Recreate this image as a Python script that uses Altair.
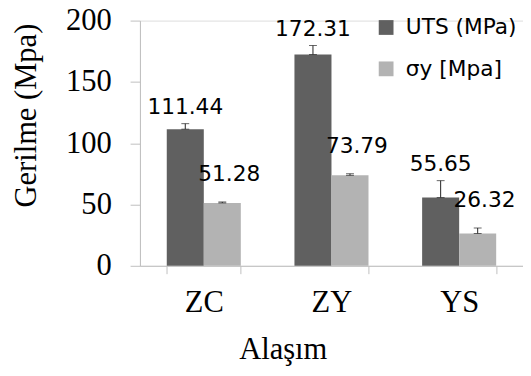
import altair as alt
import pandas as pd

categories = ["ZC", "ZY", "YS"]
series = ["UTS (MPa)", "σy [Mpa]"]
uts = [111.44, 172.31, 55.65]
sy = [51.28, 73.79, 26.32]
uts_err = [4.5, 7.4, 13.8]
sy_err = [0.8, 1.3, 4.5]
y_ticks = [0, 50, 100, 150, 200]
colors = ["#606060", "#b3b3b3"]

rows = []
for i, c in enumerate(categories):
    rows.append(dict(cat=c, series=series[0], value=uts[i], err=uts_err[i]))
    rows.append(dict(cat=c, series=series[1], value=sy[i], err=sy_err[i]))
df = pd.DataFrame(rows)
df["top"] = df["value"] + df["err"]
df["label"] = df["value"].map(lambda v: f"{v:.2f}")

W, H = 389, 249
SERIF = "Liberation Serif"
SANS = "DejaVu Sans"
AX = "#bfbfbf"

x_axis = alt.Axis(
    title="Alaşım", titleFont=SERIF, titleFontSize=31, titleFontWeight="normal",
    titleColor="black", titleX=145, titleY=94, titleAlign="center",
    titleBaseline="alphabetic", titleAnchor="start",
    labelFont=SERIF, labelFontSize=31, labelColor="black", labelAngle=0,
    labelPadding=14, tickBand="extent", tickSize=8, tickColor=AX,
    domainColor=AX, labelBaseline="top",
)
y_axis = alt.Axis(
    title="Gerilme (Mpa)", values=y_ticks, grid=False, tickSize=10,
    tickColor=AX, domainColor=AX, labelPadding=19,
    labelFont=SERIF, labelFontSize=31, labelColor="black",
    titleFont=SERIF, titleFontSize=31, titleFontWeight="normal",
    titleColor="black", titleAngle=270, titleX=-106, titleY=96,
    titleAlign="center", titleBaseline="alphabetic",
)

x = alt.X("cat:N", sort=categories,
          scale=alt.Scale(paddingInner=0.42, paddingOuter=0.21), axis=x_axis)
xo = alt.XOffset("series:N", sort=series,
                 scale=alt.Scale(paddingInner=0, paddingOuter=0))
yscale = alt.Scale(domain=[0, 200], nice=False, zero=True)

base = alt.Chart(df)

bars = base.mark_bar().encode(
    x=x, xOffset=xo,
    y=alt.Y("value:Q", scale=yscale, axis=y_axis),
    color=alt.Color(
        "series:N", sort=series,
        scale=alt.Scale(domain=series, range=colors),
        legend=alt.Legend(
            orient="none", legendX=239, legendY=-4, title=None,
            symbolType="square", symbolSize=225, symbolStrokeWidth=0,
            labelFont=SANS, labelFontSize=22, labelColor="black",
            rowPadding=20, labelOffset=9, padding=0, labelLimit=300,
        ),
    ),
)

err_rule = base.mark_rule(color="#222222", strokeWidth=1).encode(
    x=x, xOffset=xo,
    y=alt.Y("value:Q", scale=yscale, axis=y_axis), y2="top:Q",
)
cap_top = base.mark_tick(color="#222222", size=8, thickness=1).encode(
    x=x, xOffset=xo, y=alt.Y("top:Q", scale=yscale, axis=y_axis),
)
cap_bot = base.mark_tick(color="#222222", size=8, thickness=1).encode(
    x=x, xOffset=xo, y=alt.Y("value:Q", scale=yscale, axis=y_axis),
)

text_uts = base.transform_filter(alt.datum.series == series[0]).mark_text(
    font=SANS, fontSize=22, dy=-10, baseline="alphabetic", color="black"
).encode(x=x, xOffset=xo, y=alt.Y("top:Q", scale=yscale, axis=y_axis), text="label:N")

text_sy = base.transform_filter(alt.datum.series == series[1]).mark_text(
    font=SANS, fontSize=22, dy=-21, dx=7, baseline="alphabetic", color="black"
).encode(x=x, xOffset=xo, y=alt.Y("top:Q", scale=yscale, axis=y_axis), text="label:N")

chart = alt.layer(bars, err_rule, cap_top, cap_bot, text_uts, text_sy).properties(
    width=W, height=H,
    autosize=alt.AutoSizeParams(type="none"),
    padding={"left": 134, "top": 10, "right": 0, "bottom": 101},
).configure_view(stroke=None).configure(background="white")

chart.save("out.html", embed_options={"renderer": "svg", "actions": False})
